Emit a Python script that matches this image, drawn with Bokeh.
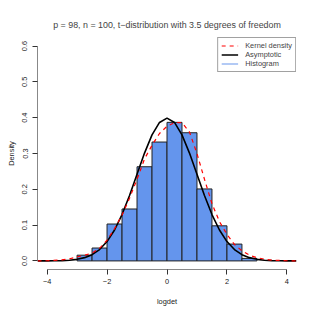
from bokeh.plotting import figure
from bokeh.models import Range1d, Legend, LegendItem, FixedTicker
from bokeh.embed import file_html
from bokeh.resources import INLINE

# Histogram (bin edges and densities)
bin_left = [-3.0, -2.5, -2.0, -1.5, -1.0, -0.5, 0.0, 0.5, 1.0, 1.5, 2.0, 2.5]
bin_right = [-2.5, -2.0, -1.5, -1.0, -0.5, 0.0, 0.5, 1.0, 1.5, 2.0, 2.5, 3.0]
hist_density = [0.016, 0.036, 0.103, 0.145, 0.263, 0.332, 0.387, 0.358, 0.201, 0.098, 0.047, 0.007]

# Asymptotic curve
asym_x = [-4.32, -4.0, -3.75, -3.5, -3.25, -3.0, -2.75, -2.5, -2.25, -2.0, -1.75, -1.5,
          -1.25, -1.0, -0.75, -0.5, -0.25, 0.0, 0.25, 0.5, 0.75, 1.0, 1.25, 1.5, 1.75,
          2.0, 2.25, 2.5, 2.75, 3.0, 3.25, 3.5, 3.75, 4.0, 4.32]
asym_y = [0.0000, 0.0001, 0.0004, 0.0009, 0.0020, 0.0044, 0.0091, 0.0175, 0.0317, 0.0540,
          0.0863, 0.1295, 0.1826, 0.2420, 0.3011, 0.3521, 0.3867, 0.3989, 0.3867, 0.3521,
          0.3011, 0.2420, 0.1826, 0.1295, 0.0863, 0.0540, 0.0317, 0.0175, 0.0091, 0.0044,
          0.0020, 0.0009, 0.0004, 0.0001, 0.0000]

# Kernel density curve
kd_x = [-4.32, -4.0, -3.5, -3.25, -3.0, -2.75, -2.5, -2.25, -2.0, -1.75, -1.5, -1.25,
        -1.0, -0.75, -0.5, -0.25, 0.0, 0.25, 0.5, 0.75, 1.0, 1.25, 1.5, 1.75, 2.0,
        2.25, 2.5, 2.75, 3.0, 3.25, 3.5, 4.0, 4.32]
kd_y = [0.0, 0.0005, 0.003, 0.006, 0.011, 0.016, 0.022, 0.035, 0.058, 0.090, 0.128, 0.175,
        0.228, 0.285, 0.323, 0.356, 0.376, 0.386, 0.386, 0.360, 0.300, 0.228, 0.160, 0.110,
        0.074, 0.046, 0.028, 0.016, 0.009, 0.005, 0.002, 0.0005, 0.0]

x_ticks = [-4, -2, 0, 2, 4]
x_tick_labels = ["\u22124", "\u22122", "0", "2", "4"]
y_ticks = [0.0, 0.1, 0.2, 0.3, 0.4, 0.5, 0.6]
y_tick_labels = ["0.0", "0.1", "0.2", "0.3", "0.4", "0.5", "0.6"]

FONT = "Liberation Sans"

p = figure(frame_width=259, frame_height=232, output_backend="svg", toolbar_location=None,
           x_range=Range1d(-4.32, 4.32), y_range=Range1d(-0.024, 0.624),
           min_border_left=37, min_border_right=11, min_border_top=37, min_border_bottom=30,
           title="p = 98, n = 100, t\u2212distribution with 3.5 degrees of freedom")
p.title.align = "center"
p.title.text_font = FONT
p.title.text_font_size = "8.9px"
p.title.text_font_style = "normal"
p.title.standoff = 15
p.outline_line_color = None
p.xgrid.grid_line_color = None
p.ygrid.grid_line_color = None

hist = p.quad(left=bin_left, right=bin_right, top=hist_density, bottom=0,
              fill_color="#6495ED", line_color="#222222", line_width=1)
asym = p.line(asym_x, asym_y, line_color="black", line_width=1.6)
kd = p.line(kd_x, kd_y, line_color="red", line_width=1.2, line_dash="4 4")
hist_leg = p.line([float("nan"), float("nan")], [float("nan"), float("nan")],
                  line_color="#9ab8f2", line_width=1.6)

for ax in (p.xaxis[0], p.yaxis[0]):
    ax.axis_line_color = "#888888"
    ax.major_tick_line_color = "#333333"
    ax.minor_tick_line_color = None
    ax.major_tick_out = 5
    ax.major_tick_in = 0
    ax.major_label_text_font = FONT
    ax.major_label_text_font_size = "7.4px"
    ax.major_label_text_color = "#222222"
    ax.axis_label_text_font = FONT
    ax.axis_label_text_font_size = "7.4px"
    ax.axis_label_text_font_style = "normal"
    ax.axis_label_text_color = "#222222"

p.xaxis.bounds = (-4, 4)
p.yaxis.bounds = (0, 0.6)
p.xaxis.ticker = FixedTicker(ticks=x_ticks)
p.yaxis.ticker = FixedTicker(ticks=y_ticks)
p.xaxis.major_label_overrides = dict(zip(x_ticks, x_tick_labels))
p.yaxis.major_label_overrides = dict(zip(y_ticks, y_tick_labels))
p.yaxis.major_label_orientation = "vertical"
p.xaxis.axis_label = "logdet"
p.yaxis.axis_label = "Density"
p.xaxis.major_label_standoff = 4
p.xaxis.axis_label_standoff = 10
p.yaxis.major_label_standoff = 5
p.yaxis.axis_label_standoff = 4

legend = Legend(items=[
    LegendItem(label="Kernel density", renderers=[kd]),
    LegendItem(label="Asymptotic", renderers=[asym]),
    LegendItem(label="Histogram", renderers=[hist_leg]),
], location="top_right")
legend.margin = 0
legend.padding = 3
legend.spacing = 0
legend.label_height = 9
legend.glyph_height = 9
legend.glyph_width = 17
legend.label_standoff = 7
legend.label_text_font = FONT
legend.label_text_font_size = "7.4px"
legend.border_line_color = "#444444"
legend.border_line_width = 1
legend.background_fill_alpha = 1
p.add_layout(legend, "center")

open("out.html", "w").write(file_html(p, INLINE))
